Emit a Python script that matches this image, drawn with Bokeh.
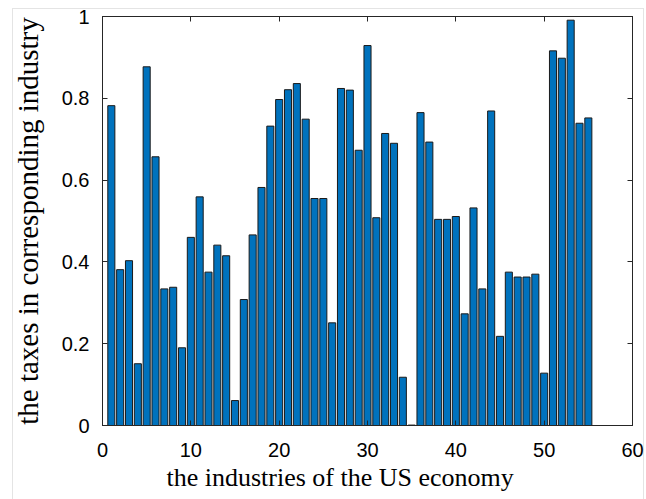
from bokeh.plotting import figure
from bokeh.models import FixedTicker, NumeralTickFormatter, LinearAxis, Range1d, Title
from bokeh.embed import file_html
from bokeh.resources import INLINE

# Tax level for each of the 55 industries
industries = list(range(1, 56))
taxes = [
    0.782, 0.381, 0.403, 0.151, 0.877, 0.657, 0.334, 0.338, 0.190, 0.460,
    0.559, 0.375, 0.441, 0.415, 0.061, 0.308, 0.466, 0.582, 0.732, 0.797,
    0.821, 0.836, 0.749, 0.555, 0.555, 0.251, 0.824, 0.820, 0.673, 0.929,
    0.508, 0.714, 0.690, 0.118, 0.001, 0.765, 0.693, 0.504, 0.504, 0.511,
    0.273, 0.532, 0.334, 0.769, 0.218, 0.375, 0.363, 0.363, 0.370, 0.128,
    0.916, 0.898, 0.991, 0.739, 0.752,
]
x_ticks = [0, 10, 20, 30, 40, 50, 60]
y_ticks = [0, 0.2, 0.4, 0.6, 0.8, 1.0]

AXIS_COLOR = "#262626"
TICK_FONT = "Liberation Sans"
LABEL_FONT = "Liberation Serif"
FRAME_GRAY = "#e4e4e4"

p = figure(
    width=646, height=499,
    x_range=Range1d(0, 60), y_range=Range1d(0, 1),
    output_backend="svg", toolbar_location=None,
    min_border_left=102, min_border_right=14,
    min_border_top=16, min_border_bottom=74,
)
p.grid.visible = False
p.outline_line_color = AXIS_COLOR
p.outline_line_width = 1
p.background_fill_color = "white"
p.border_fill_alpha = 0

# thin light-gray page border behind the plot (top, left and right edges)
g = f"linear-gradient({FRAME_GRAY},{FRAME_GRAY})"
p.styles = {
    "background-color": "white",
    "background-image": f"{g}, {g}, {g}",
    "background-size": "632px 1px, 1px 491px, 1px 491px",
    "background-position": "12px 8px, 12px 8px, 643px 8px",
    "background-repeat": "no-repeat",
}

p.vbar(x=industries, top=taxes, width=0.8, bottom=0,
       fill_color="#0072BD", line_color="#1a1a1a", line_width=1)

def style_axis(ax, ticks):
    ax.ticker = FixedTicker(ticks=ticks)
    ax.axis_line_color = AXIS_COLOR
    ax.major_tick_line_color = AXIS_COLOR
    ax.major_tick_in = 5
    ax.major_tick_out = 0
    ax.minor_tick_line_color = None
    ax.major_label_text_font = TICK_FONT
    ax.major_label_text_color = "#000000"
    ax.major_label_text_font_size = "20px"

xa = p.xaxis[0]
ya = p.yaxis[0]
style_axis(xa, x_ticks)
style_axis(ya, y_ticks)
ya.formatter = NumeralTickFormatter(format="0.[0]")
xa.major_label_standoff = 17
ya.major_label_standoff = 13

ya.axis_label = "the taxes in corresponding industry"
ya.axis_label_text_font = LABEL_FONT
ya.axis_label_text_font_style = "normal"
ya.axis_label_text_color = "#000000"
ya.axis_label_text_font_size = "29px"
ya.axis_label_standoff = 15

# x-axis caption, set slightly left of the frame centre
xlabel = Title(
    text="the industries of the US economy",
    align="left", offset=64, standoff=2,
    text_font=LABEL_FONT, text_font_style="normal",
    text_font_size="26px", text_color="#000000",
)
p.add_layout(xlabel, "below")

# mirrored tick marks on top and right (minor ticks only, so no labels)
def mirror_axis(ticks):
    ax = LinearAxis(ticker=FixedTicker(ticks=[], minor_ticks=ticks))
    ax.axis_line_color = AXIS_COLOR
    ax.major_tick_line_color = None
    ax.minor_tick_line_color = AXIS_COLOR
    ax.minor_tick_in = 5
    ax.minor_tick_out = 0
    ax.major_label_standoff = 0
    return ax

p.add_layout(mirror_axis(x_ticks), "above")
p.add_layout(mirror_axis(y_ticks), "right")

open("out.html", "w").write(file_html(p, INLINE))
